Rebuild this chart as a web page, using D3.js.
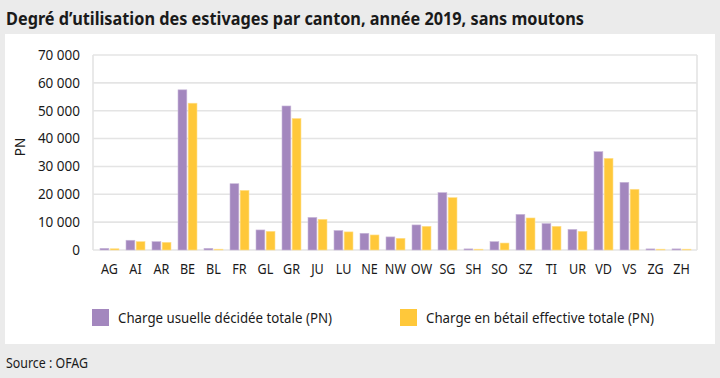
<!DOCTYPE html>
<meta charset="utf-8">
<title>Degré d'utilisation des estivages par canton</title>
<script src="https://d3js.org/d3.v7.min.js"></script>
<style>
    body {
        margin: 0;
        background: #ebebeb;
        font-family: "Noto Sans", sans-serif;
    }
</style>
<body>
<script>
    // cantons and the two series (PN)
    var cantons = ["AG", "AI", "AR", "BE", "BL", "FR", "GL", "GR", "JU", "LU", "NE", "NW",
        "OW", "SG", "SH", "SO", "SZ", "TI", "UR", "VD", "VS", "ZG", "ZH"];
    var chargeUsuelle = [600, 3500, 3000, 57500, 600, 23800, 7200, 51700, 11700, 7000, 6000, 4700,
        9000, 20600, 400, 3000, 12800, 9500, 7400, 35300, 24300, 400, 400];
    var chargeEffective = [450, 3000, 2750, 52700, 300, 21400, 6700, 47200, 11000, 6500, 5400, 4200,
        8500, 18800, 300, 2500, 11500, 8500, 6700, 32900, 21800, 300, 300];
    var seriesNames = ["Charge usuelle décidée totale (PN)", "Charge en bétail effective totale (PN)"];
    var colors = ["#a387be", "#ffc83a"];
    var yTicks = [0, 10000, 20000, 30000, 40000, 50000, 60000, 70000];

    var W = 720, H = 378;
    var svg = d3.select("body").append("svg")
        .attr("width", W).attr("height", H)
        .style("display", "block");

    // white panel
    svg.append("rect")
        .attr("x", 5).attr("y", 34).attr("width", 710).attr("height", 310)
        .attr("fill", "#fff");

    svg.append("text")
        .attr("x", 6).attr("y", 25)
        .attr("font-size", 17).attr("font-weight", "bold").attr("fill", "#1a1a1a")
        .attr("textLength", 578).attr("lengthAdjust", "spacingAndGlyphs")
        .text("Degré d’utilisation des estivages par canton, année 2019, sans moutons");

    var plot = {left: 93, right: 697, top: 55, bottom: 250};

    var y = d3.scaleLinear().domain([0, 70000]).range([plot.bottom, plot.top]);
    var x = d3.scaleBand().domain(cantons).range([96.5, 694.5]);
    var x1 = d3.scaleBand().domain([0, 1])
        .range([x.bandwidth() * 0.135, x.bandwidth() * 0.865]).paddingInner(0.13);

    var fmt = function (v) { return d3.format(",")(v).replace(/,/g, " "); };

    // grid
    svg.append("g").selectAll("line").data(yTicks).join("line")
        .attr("x1", plot.left).attr("x2", plot.right)
        .attr("y1", d => y(d)).attr("y2", d => y(d))
        .attr("stroke", "#e4e4e4").attr("stroke-width", 1.6);
    svg.append("g").selectAll("line").data([plot.left, plot.right]).join("line")
        .attr("x1", d => d).attr("x2", d => d)
        .attr("y1", plot.top).attr("y2", plot.bottom)
        .attr("stroke", "#e4e4e4").attr("stroke-width", 1.6);

    // y axis labels
    var yAxis = d3.axisLeft(y).tickValues(yTicks).tickFormat(fmt).tickSize(0).tickPadding(0);
    var gy = svg.append("g").attr("transform", "translate(80,0)").call(yAxis);
    gy.select(".domain").remove();
    gy.selectAll("text").attr("font-size", 13.5).attr("font-family", "Noto Sans").attr("fill", "#1a1a1a");

    svg.append("text")
        .attr("transform", "translate(25,147) rotate(-90)")
        .attr("text-anchor", "middle").attr("font-size", 13.5).attr("fill", "#1a1a1a")
        .text("PN");

    // x axis labels (narrowed, the original face is condensed)
    var xAxis = d3.axisBottom(x).tickSize(0).tickPadding(0);
    var gx = svg.append("g").attr("transform", "translate(0,263)").call(xAxis);
    gx.select(".domain").remove();
    gx.selectAll("text").attr("font-size", 15).attr("font-family", "Noto Sans").attr("fill", "#1a1a1a")
        .attr("transform", "scale(0.84,1)");

    // bars
    var rows = cantons.map((c, i) => ({canton: c, values: [chargeUsuelle[i], chargeEffective[i]]}));
    var groups = svg.append("g").selectAll("g").data(rows).join("g")
        .attr("transform", d => "translate(" + x(d.canton) + ",0)");
    groups.selectAll("rect").data(d => d.values.map((v, k) => ({k: k, v: v}))).join("rect")
        .attr("x", d => x1(d.k))
        .attr("width", x1.bandwidth())
        .attr("y", d => y(d.v))
        .attr("height", d => plot.bottom - y(d.v))
        .attr("fill", d => colors[d.k])
        .attr("stroke", d => d.k === 0 ? "#c9b8da" : "#ffe08f")
        .attr("stroke-width", 0.6);

    // legend
    var legendX = [92, 400], legendW = [214, 228];
    var lg = svg.append("g").selectAll("g").data(seriesNames).join("g")
        .attr("transform", (d, i) => "translate(" + legendX[i] + ",309)");
    lg.append("rect").attr("width", 17).attr("height", 17).attr("fill", (d, i) => colors[i]);
    lg.append("text")
        .attr("x", 26).attr("y", 14).attr("font-size", 14).attr("fill", "#1a1a1a")
        .attr("textLength", (d, i) => legendW[i]).attr("lengthAdjust", "spacingAndGlyphs")
        .text(d => d);

    svg.append("text")
        .attr("x", 6).attr("y", 368).attr("font-size", 14).attr("fill", "#1a1a1a")
        .attr("textLength", 82).attr("lengthAdjust", "spacingAndGlyphs")
        .text("Source : OFAG");
</script>
</body>
